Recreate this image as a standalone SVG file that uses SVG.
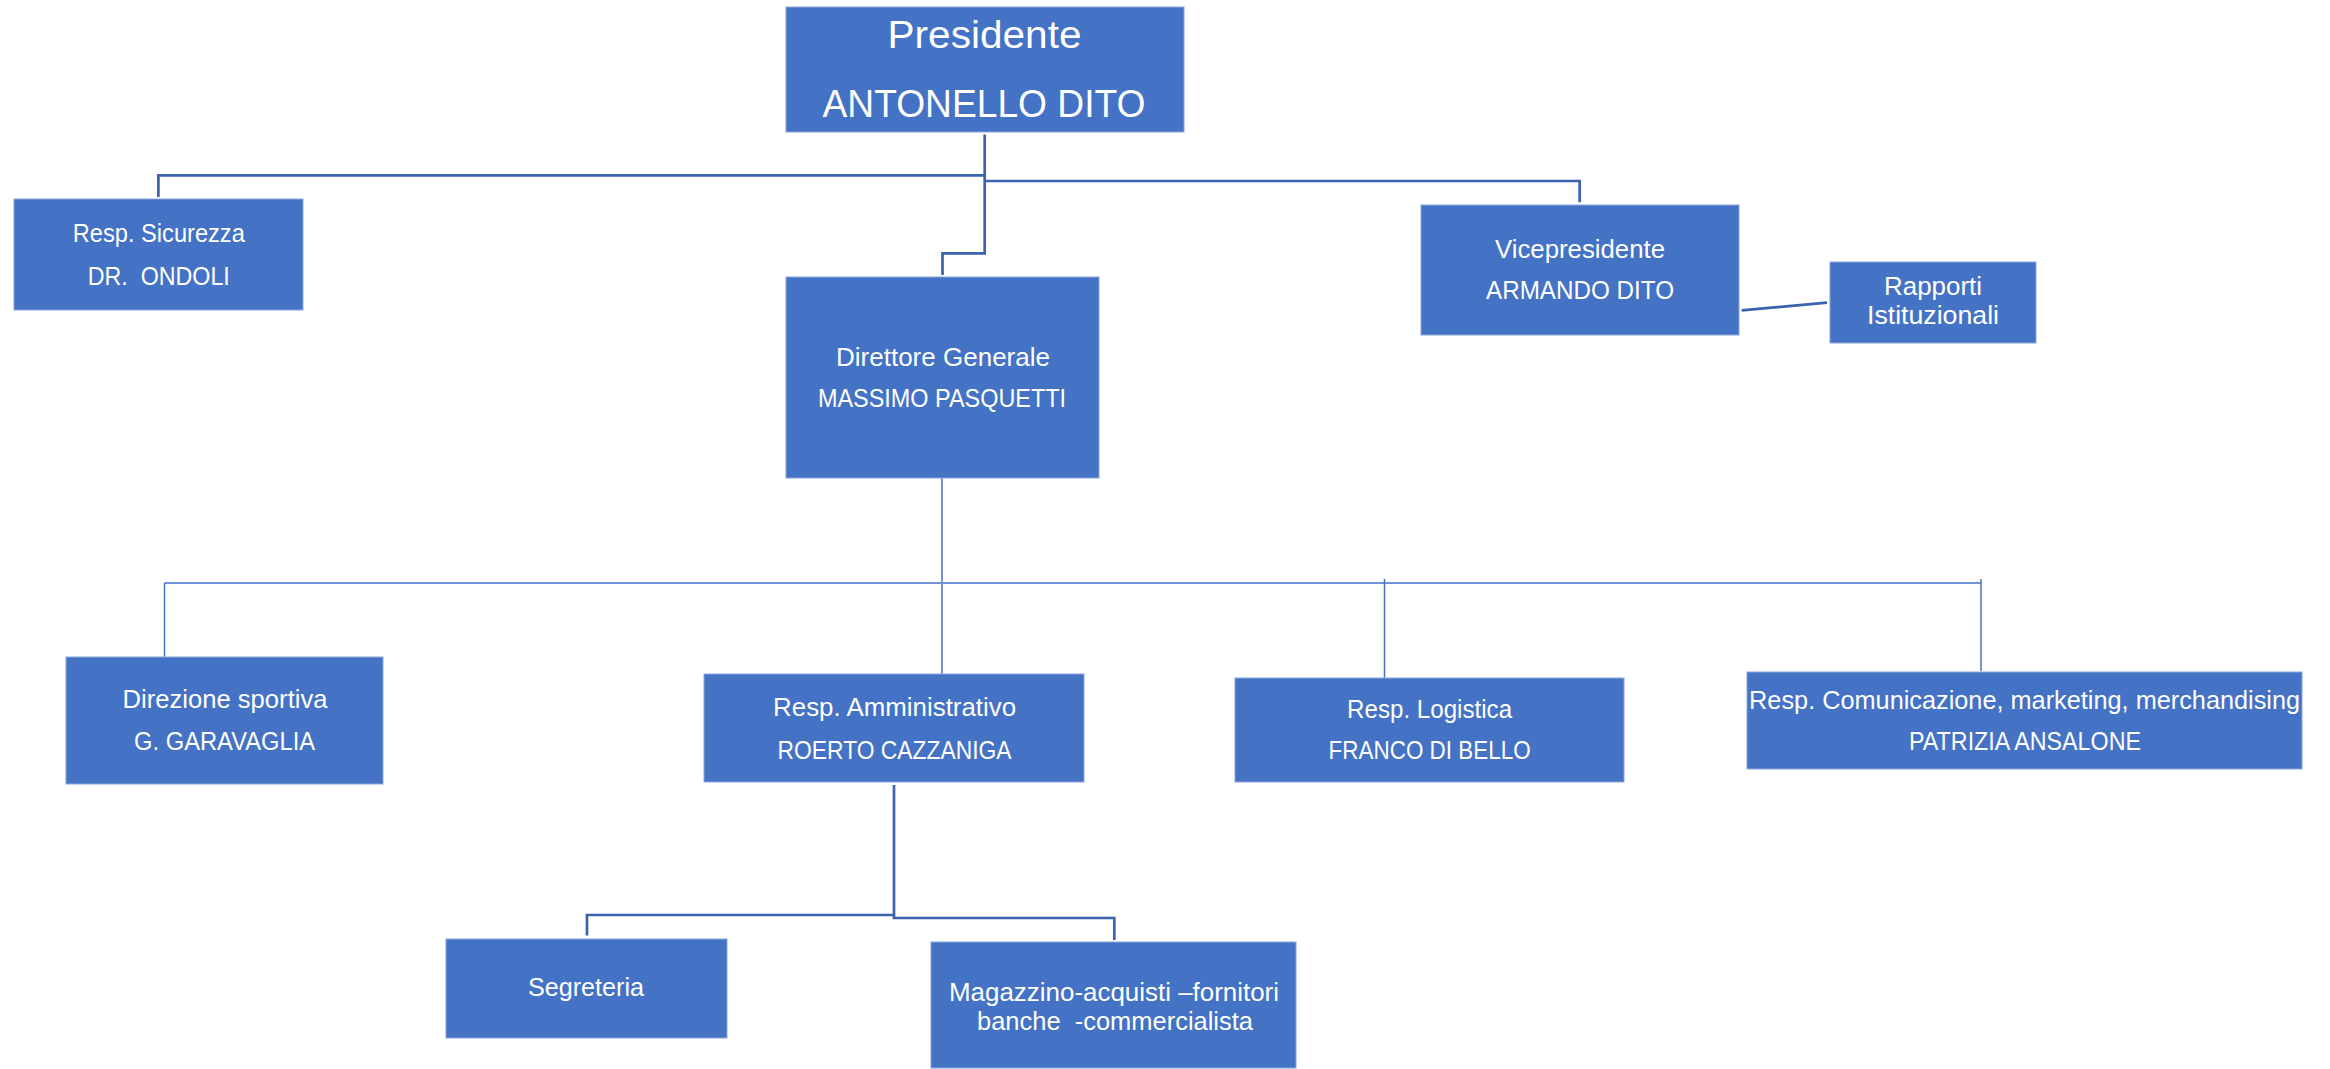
<svg xmlns="http://www.w3.org/2000/svg" width="2330" height="1069" viewBox="0 0 2330 1069">
<style>
.box{fill:#4472C4;stroke:#8AA6DA;stroke-width:1}
.t{fill:#FFFFFF;font-family:"Liberation Sans",Arial,sans-serif;font-size:25px;text-anchor:middle;white-space:pre}
.big{font-size:39px}
.thick{fill:none;stroke:#3A62AD;stroke-width:2.7}
.thin{fill:none;stroke:#4472C4;stroke-width:1.5}
.thinh{fill:none;stroke:#6F93D6;stroke-width:2}
</style>
<rect x="0" y="0" width="2330" height="1069" fill="#FFFFFF"/>
<g id="connectors">
<path class="thick" d="M158.4,197 V175.3 H984.7"/>
<path class="thick" d="M984.7,134.5 V253.3 H942.5 V275"/>
<path class="thick" d="M985,181 H1579.7 V202.3"/>
<path class="thick" d="M1741.7,310.3 L1827,302.7"/>
<path class="thick" d="M894,785 V918 H1114.3 V940"/>
<path class="thick" d="M894,915 H587 V935.4"/>
<path class="thin" d="M942,478 V674"/>
<path class="thinh" d="M164.5,583 H1981"/>
<path class="thin" d="M164.5,583 V657"/>
<path class="thin" d="M1384.5,579 V678"/>
<path class="thin" d="M1981,579 V671"/>
</g>
<g id="presidente">
<rect class="box" x="786" y="7" width="398" height="125"/>
<text class="t big" x="984.5" y="48.3" textLength="194" lengthAdjust="spacingAndGlyphs">Presidente</text>
<text class="t big" x="984" y="116.7" textLength="323" lengthAdjust="spacingAndGlyphs">ANTONELLO DITO</text>
</g>
<g id="sicurezza">
<rect class="box" x="14" y="199" width="289" height="111"/>
<text class="t" x="158.8" y="241.7" textLength="172" lengthAdjust="spacingAndGlyphs">Resp. Sicurezza</text>
<text class="t" x="158.8" y="285" textLength="142" lengthAdjust="spacingAndGlyphs">DR.  ONDOLI</text>
</g>
<g id="direttore">
<rect class="box" x="786" y="277" width="313" height="201"/>
<text class="t" x="943" y="365.7" textLength="214" lengthAdjust="spacingAndGlyphs">Direttore Generale</text>
<text class="t" x="942" y="407.3" textLength="248" lengthAdjust="spacingAndGlyphs">MASSIMO PASQUETTI</text>
</g>
<g id="vicepresidente">
<rect class="box" x="1421" y="205" width="318" height="130"/>
<text class="t" x="1580" y="258" textLength="170" lengthAdjust="spacingAndGlyphs">Vicepresidente</text>
<text class="t" x="1580" y="299.3" textLength="188" lengthAdjust="spacingAndGlyphs">ARMANDO DITO</text>
</g>
<g id="rapporti">
<rect class="box" x="1830" y="262" width="206" height="81"/>
<text class="t" x="1933" y="295" textLength="98" lengthAdjust="spacingAndGlyphs">Rapporti</text>
<text class="t" x="1933" y="324" textLength="132" lengthAdjust="spacingAndGlyphs">Istituzionali</text>
</g>
<g id="direzione-sportiva">
<rect class="box" x="66" y="657" width="317" height="127"/>
<text class="t" x="225" y="707.5" textLength="205" lengthAdjust="spacingAndGlyphs">Direzione sportiva</text>
<text class="t" x="224.6" y="750.4" textLength="181" lengthAdjust="spacingAndGlyphs">G. GARAVAGLIA</text>
</g>
<g id="amministrativo">
<rect class="box" x="704" y="674" width="380" height="108"/>
<text class="t" x="894.6" y="716" textLength="243" lengthAdjust="spacingAndGlyphs">Resp. Amministrativo</text>
<text class="t" x="894.6" y="758.7" textLength="234" lengthAdjust="spacingAndGlyphs">ROERTO CAZZANIGA</text>
</g>
<g id="logistica">
<rect class="box" x="1235" y="678" width="389" height="104"/>
<text class="t" x="1429.6" y="717.7" textLength="165" lengthAdjust="spacingAndGlyphs">Resp. Logistica</text>
<text class="t" x="1429.6" y="759.4" textLength="202" lengthAdjust="spacingAndGlyphs">FRANCO DI BELLO</text>
</g>
<g id="comunicazione">
<rect class="box" x="1747" y="672" width="555" height="97"/>
<text class="t" x="2024.6" y="708.6" textLength="551" lengthAdjust="spacingAndGlyphs">Resp. Comunicazione, marketing, merchandising</text>
<text class="t" x="2025" y="750.4" textLength="232" lengthAdjust="spacingAndGlyphs">PATRIZIA ANSALONE</text>
</g>
<g id="segreteria">
<rect class="box" x="446" y="939" width="281" height="99"/>
<text class="t" x="586" y="996.4" textLength="116" lengthAdjust="spacingAndGlyphs">Segreteria</text>
</g>
<g id="magazzino">
<rect class="box" x="931" y="942" width="365" height="126"/>
<text class="t" x="1114" y="1000.7" textLength="330" lengthAdjust="spacingAndGlyphs">Magazzino-acquisti –fornitori</text>
<text class="t" x="1115" y="1029.8" textLength="276" lengthAdjust="spacingAndGlyphs">banche  -commercialista</text>
</g>
</svg>
